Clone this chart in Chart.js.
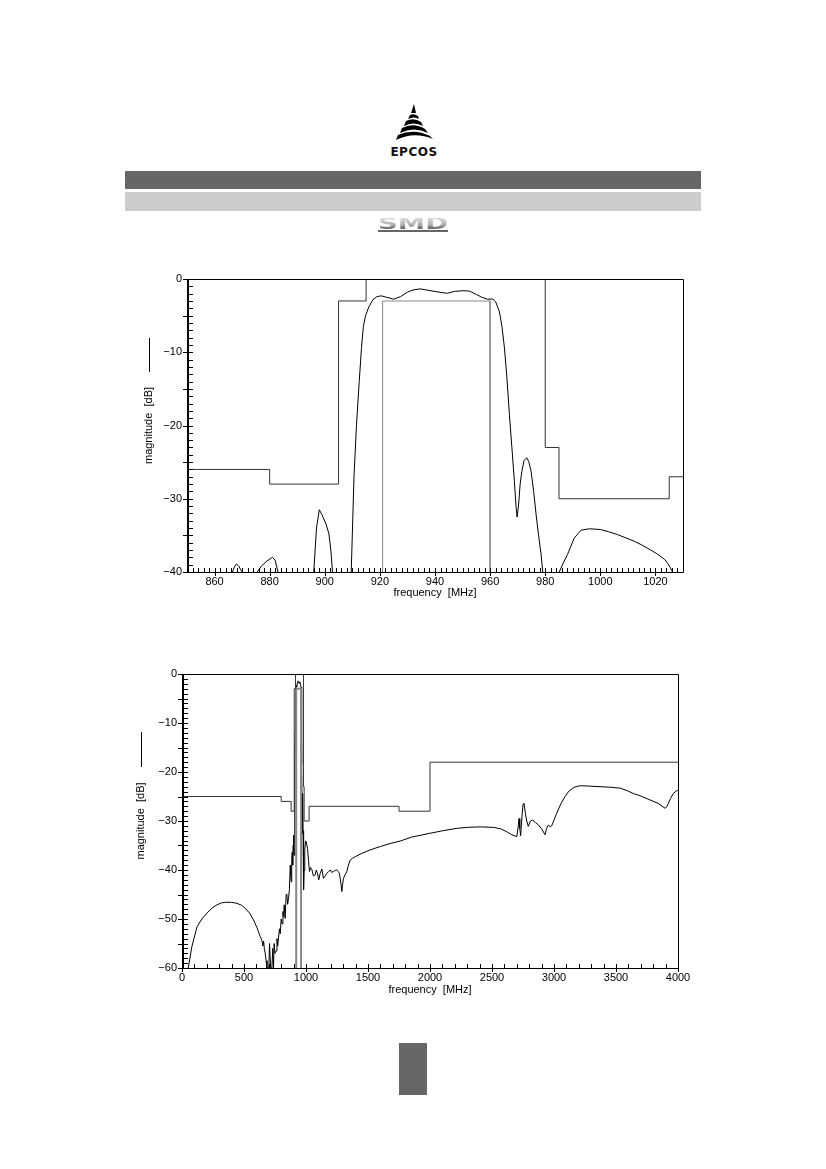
<!DOCTYPE html>
<html><head><meta charset="utf-8">
<script src="https://cdn.jsdelivr.net/npm/chart.js@4/dist/chart.umd.min.js"></script>
<style>
html,body{margin:0;padding:0;background:#fff;}
body{width:826px;height:1169px;position:relative;overflow:hidden;font-family:"Liberation Sans",Arial,sans-serif;}
.abs{position:absolute;}
.smd{font:bold 16px 'DejaVu Sans';letter-spacing:0;transform:scaleX(1.72);transform-origin:0 0;line-height:14px;white-space:nowrap;
  background:linear-gradient(#e4e4e4,#b0b0b0 55%,#6a6a6a 80%,#555);-webkit-background-clip:text;background-clip:text;color:transparent;}
</style></head><body>
<svg class="abs" style="left:390px;top:100px" width="50" height="42" viewBox="390 100 50 42">
  <path d="M414 104 L416 113 L411 113 Z" fill="#000"/>
  <path d="M410 115 Q414 113 418 116 L419 119 Q414 116 408 119 Z" fill="#000"/>
  <path d="M406 121 Q414 117 421 122 L423 126 Q414 121 404 126 Z" fill="#000"/>
  <path d="M402 128 Q414 122 425 129 L428 133 Q414 126 400 133 Z" fill="#000"/>
  <path d="M398 135 Q414 128 430 136 L433 139 Q414 131 396 140 Z" fill="#000"/>
</svg>
<div class="abs" style="left:383px;top:145px;width:62px;text-align:center;font:bold 12px 'DejaVu Sans';letter-spacing:0.5px;color:#111;">EPCOS</div>
<div class="abs" style="left:125px;top:171px;width:576px;height:18px;background:#666;"></div>
<div class="abs" style="left:125px;top:192px;width:576px;height:19px;background:#ccc;"></div>
<div class="abs" style="left:378px;top:218px;width:80px;height:12px;overflow:hidden;">
  <div class="smd" style="margin-top:-1px;">SMD</div>
</div>
<div class="abs" style="left:378px;top:230px;width:70px;height:2px;background:#666;"></div>
<canvas id="c1" class="abs" width="620" height="350" style="left:100px;top:260px;width:620px;height:350px"></canvas>
<canvas id="c2" class="abs" width="620" height="350" style="left:100px;top:655px;width:620px;height:350px"></canvas>
<div class="abs" style="left:399px;top:1043px;width:28px;height:52px;background:#666;"></div>
<script>
// ---------- data: upper chart (850–1030 MHz) ----------
const topCurveFreq = [866.5,867.2,868,868.8,869.5,870, 872,
  875.5,877,879,881,882,883, 890,
  896,897,898,899,900.5,901.5,902.2,902.8, 906,
  909.6,910.6,911.5,912.5,913.3,914,914.8,916,917.5,919,920.5,922.5,925,927.5,930,932,934.5,937,940,942.5,944.5,947,950,952.5,955,957,959,961,962,963.4,964.3,965.2,966.1,967,967.9,968.8,969.4,969.8,970.3,970.9,971.5,972.3,973.3,974,974.9,975.8,976.7,977.6,978.5,979.1, 982,
  985.1,986.5,988.1,989.3,990.5,991.8,993,996,1000,1003,1006.3,1009,1012.3,1015,1018.3,1020.5,1022,1023.4,1024.4,1025.4,1026.2];
const topCurveDb = [-40,-39.3,-38.9,-39.2,-39.7,-40, null,
  -40,-39.2,-38.5,-38.0,-38.4,-40, null,
  -40,-34,-31.5,-32.2,-33.5,-34.8,-37,-40, null,
  -40,-27,-20,-14,-9.5,-6.5,-5,-3.8,-2.8,-2.4,-2.3,-2.5,-2.75,-2.4,-1.8,-1.5,-1.35,-1.5,-1.7,-1.85,-1.95,-1.7,-1.6,-1.65,-2.1,-2.5,-2.75,-2.75,-3.1,-4.5,-6.5,-9.4,-13.5,-18.5,-23,-27.6,-31,-32.5,-31,-28,-26.3,-24.8,-24.4,-24.9,-26.3,-29,-32.2,-35,-37.6,-40, null,
  -40,-38.8,-37.6,-36.5,-35.4,-34.8,-34.3,-34.1,-34.2,-34.5,-34.9,-35.3,-35.8,-36.3,-37,-37.5,-37.9,-38.3,-38.8,-39.4,-40];
const topMaskFreq = [850,880,905,915,980,985,1025,1030];
const topMaskDb   = [-26,-28,-3,0,-23,-30,-27,-27];
const topPassFreq = [921,921,960,960];
const topPassDb   = [-40,-3,-3,-40];
const topXTicks = [860,880,900,920,940,960,980,1000,1020];
const topYTicks = [0,-10,-20,-30,-40];

// ---------- data: lower chart (0–4000 MHz) ----------
const botCurveFreq = [50,80,121,160,201,240,282,320,349,400,443,480,510,545,577,605,631,645,652,658,664,671,678,685,
  700,706,715,725,732,738,743,750,759,766,772,778,786,792,800,807,814,819,824,832,840,846,852,859,866,873,877,881,885,889,893,896,899,902,905,908,911,913,915,918,922,926,930,935,940,945,950,955,960,963,967,970,973,976,979,982,985,990,996,1002,1012,1020,1028,1037,1047,1060,1074,1083,1092,1103,1114,1128,1141,1155,1168,1182,1195,1208,1222,1235,1248,1260,1270,1280,1289,1295,1302,1315,1329,1342,1356,1375,1396,1450,1517,1600,1678,1759,1850,2001,2100,2216,2300,2404,2512,2570,2619,2660,2700,2712,2718,2724,2731,2742,2750,2758,2770,2780,2793,2810,2829,2850,2874,2900,2928,2940,2955,2970,2981,3000,3022,3055,3089,3120,3156,3190,3223,3300,3371,3450,3533,3590,3640,3700,3774,3840,3895,3910,3922,3940,3962,3985,4000];
const botCurveDb = [-60,-55.6,-51.6,-50,-48.8,-47.8,-47.1,-46.7,-46.6,-46.6,-46.8,-47.2,-47.8,-48.8,-50.2,-51.8,-53.6,-54.4,-55.5,-54.5,-56,-57,-58.5,-60,
  -60,-55,-60,-60,-56,-60,-55,-57,-56.5,-54,-55.5,-53.9,-52,-53,-50,-51,-48.5,-49.5,-47.1,-49.9,-45,-45.1,-47,-45.8,-44,-39,-41,-42.4,-38,-36.3,-39,-35,-32.9,-36,-37,-30,-20,-11.8,-6,-3.6,-2.4,-2.6,-1.8,-1.4,-1.6,-1.9,-1.6,-2.1,-2.7,-4.5,-18.5,-32.5,-24.4,-32,-40,-44,-40,-36,-34.1,-34.2,-35.6,-38,-40.3,-39.5,-39.9,-41.2,-41,-40,-40.7,-42,-40.7,-39.8,-41.7,-41.2,-40.7,-40.3,-40,-40.5,-40.3,-40.1,-40,-40.3,-40.7,-42.5,-44.4,-43,-41.7,-41,-40.3,-39,-38,-37.6,-37.3,-36.6,-35.9,-35.2,-34.6,-34.1,-33.3,-32.5,-32,-31.5,-31.3,-31.2,-31.3,-31.6,-32.2,-32.8,-33.2,-31,-29.5,-31.5,-33,-29,-26.6,-26.4,-28.5,-30,-31.1,-30,-29.8,-30.3,-30.8,-31.6,-32.8,-31.5,-30.8,-31.2,-31,-29.8,-28.4,-26.5,-25,-23.9,-23.2,-22.9,-22.8,-22.9,-23,-23.1,-23.3,-23.8,-24.4,-24.9,-25.7,-26.4,-27.4,-27.1,-26.4,-25.4,-24.4,-23.9,-23.7];
const botMaskFreq = [0,800,880,905,915,980,985,1025,1750,2000,4000];
const botMaskDb   = [-25,-26,-28,-3,0,-23,-30,-27,-28,-18,-18];
const botPassFreq = [921,921,960,960];
const botPassDb   = [-60,-3,-3,-60];
const botXTicks = [0,500,1000,1500,2000,2500,3000,3500,4000];
const botYTicks = [0,-10,-20,-30,-40,-50,-60];

// ---------- helpers ----------
const pts = (f, d) => f.map((v, i) => ({x: v, y: d[i]}));
const minus = v => String(v).replace('-', '\u2212');

Chart.defaults.font.family = "'Liberation Sans', Arial, sans-serif";
Chart.defaults.font.size = 11;
Chart.defaults.color = '#000';

const frameTicks = {
  id: 'frameTicks',
  afterDraw(chart, args, o) {
    const {ctx, chartArea: a, scales: {x, y}} = chart;
    const L = Math.round(a.left), R = Math.round(a.right), T = Math.round(a.top), B = Math.round(a.bottom);
    ctx.save();
    ctx.strokeStyle = '#000';
    ctx.lineWidth = 1;
    ctx.beginPath();
    ctx.rect(L + 0.5, T + 0.5, R - L, B - T);
    ctx.stroke();
    ctx.lineWidth = 2;
    ctx.beginPath(); ctx.moveTo(L + 1, T); ctx.lineTo(L + 1, B + 1); ctx.stroke();
    ctx.lineWidth = 1;
    ctx.beginPath();
    const nx = Math.round((x.max - x.min) / o.xMinor);
    for (let i = 0; i <= nx; i++) {
      const v = x.min + i * o.xMinor;
      const px = Math.round(x.getPixelForValue(v)) + 0.5;
      const maj = Math.abs(v / o.xMajor - Math.round(v / o.xMajor)) < 1e-6;
      ctx.moveTo(px, B - 4); ctx.lineTo(px, B + (maj ? 4 : 0));
    }
    const ny = Math.round((y.max - y.min) / o.yMinor);
    for (let i = 0; i <= ny; i++) {
      const v = y.min + i * o.yMinor;
      const py = Math.round(y.getPixelForValue(v)) + 0.5;
      const mid = Math.abs(v / o.yMid - Math.round(v / o.yMid)) < 1e-6;
      ctx.moveTo(L + 6, py); ctx.lineTo(L - (mid ? 4 : 0), py);
    }
    ctx.stroke();
    ctx.beginPath();
    ctx.moveTo(o.tx + 0.5, T + o.t1); ctx.lineTo(o.tx + 0.5, T + o.t2);
    ctx.stroke();
    ctx.restore();
  }
};

function makeChart(id, cfg) {
  return new Chart(document.getElementById(id), {
    type: 'line',
    data: {
      datasets: [
        {data: pts(cfg.maskF, cfg.maskD), borderColor: '#333', borderWidth: 1, stepped: true, pointRadius: 0, fill: false},
        {data: pts(cfg.passF, cfg.passD), borderColor: '#888', borderWidth: cfg.passW, pointRadius: 0, fill: false},
        {data: pts(cfg.curveF, cfg.curveD), borderColor: '#000', borderWidth: 1, pointRadius: 0, fill: false, tension: 0, spanGaps: false}
      ]
    },
    options: {
      responsive: false, animation: false, devicePixelRatio: 1,
      layout: {padding: cfg.pad},
      plugins: {legend: {display: false}, tooltip: {enabled: false}, frameTicks: cfg.ticksOpt},
      scales: {
        x: {
          type: 'linear', min: cfg.xMin, max: cfg.xMax,
          grid: {display: false, drawTicks: false},
          border: {display: false},
          afterBuildTicks: s => { s.ticks = cfg.xTicks.map(v => ({value: v})); },
          afterFit: s => { s.height = cfg.xH; },
          ticks: {padding: 3, maxRotation: 0, autoSkip: false, callback: v => minus(v)},
          title: {display: true, text: 'frequency  [MHz]', padding: {top: 0, bottom: cfg.xTitlePad}}
        },
        y: {
          type: 'linear', min: cfg.yMin, max: 0,
          grid: {display: false, drawTicks: false},
          border: {display: false},
          afterBuildTicks: s => { s.ticks = cfg.yTicks.map(v => ({value: v})); },
          afterFit: s => { s.width = cfg.yW; },
          ticks: {padding: 5, autoSkip: false, callback: v => minus(v)},
          title: {display: true, text: 'magnitude  [dB]', padding: {top: cfg.yTitlePad, bottom: 0}}
        }
      }
    },
    plugins: [frameTicks]
  });
}

makeChart('c1', {
  maskF: topMaskFreq, maskD: topMaskDb, passF: topPassFreq, passD: topPassDb, passW: 1,
  curveF: topCurveFreq, curveD: topCurveDb,
  xMin: 850, xMax: 1030, yMin: -40, xTicks: topXTicks, yTicks: topYTicks,
  pad: {top: 19, right: 37, left: 0, bottom: 0}, xH: 38, yW: 87,
  xTitlePad: 10, yTitlePad: 42,
  ticksOpt: {xMinor: 2, xMajor: 20, yMinor: 1, yMid: 5, tx: 49, t1: 59, t2: 93}
});
makeChart('c2', {
  maskF: botMaskFreq, maskD: botMaskDb, passF: botPassFreq, passD: botPassDb, passW: 2,
  curveF: botCurveFreq, curveD: botCurveDb,
  xMin: 0, xMax: 4000, yMin: -60, xTicks: botXTicks, yTicks: botYTicks,
  pad: {top: 19, right: 42, left: 0, bottom: 0}, xH: 37, yW: 82,
  xTitlePad: 8, yTitlePad: 34,
  ticksOpt: {xMinor: 100, xMajor: 500, yMinor: 1, yMid: 5, tx: 41, t1: 58, t2: 93}
});
</script>
</body></html>
